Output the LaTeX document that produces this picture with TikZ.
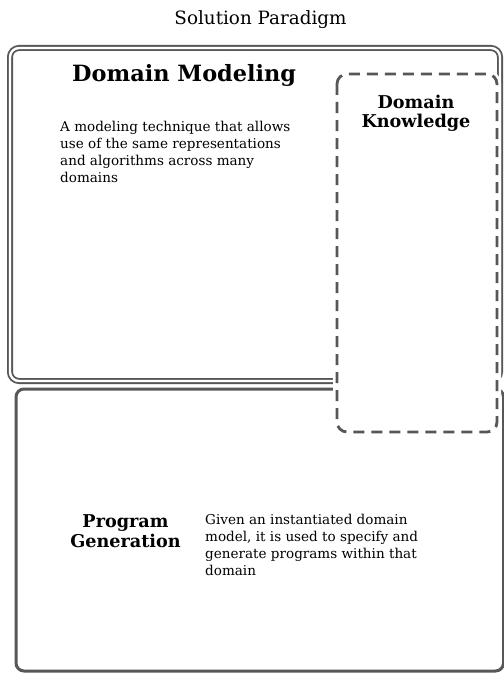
\documentclass[tikz,border=0pt]{standalone}
\usepackage{fontspec}
\setmainfont{DejaVu Serif}
\definecolor{edge}{gray}{0.34}
\begin{document}
\begin{tikzpicture}[x=1bp,y=-1bp,
  dmframe/.style={draw=edge, double=white, line width=1.8bp, double distance=2.4bp, rounded corners=9bp},
  pgframe/.style={draw=edge, line width=3bp, rounded corners=8bp},
  dkframe/.style={draw=edge, line width=2.8bp, dash pattern=on 11bp off 7bp, rounded corners=10bp,
     preaction={draw=white, line width=8bp, fill=white}},
  heading/.style={font=\fontsize{17.7}{20}\selectfont\bfseries, inner sep=0pt, align=center},
  body/.style={font=\fontsize{13.6}{16.8}\selectfont, inner sep=0pt, align=left}
]
\useasboundingbox[fill=white] (0,0) rectangle (504,674);
% title
\node[inner sep=0pt, anchor=base, font=\fontsize{18.4}{22}\selectfont] (title) at (260.5,25) {Solution Paradigm};
% frames
\draw[dmframe] (10,48) rectangle (500,381);
\draw[pgframe] (16,389) rectangle (503.5,671);
\draw[dkframe] (337,74) rectangle (497,432);
% domain modeling
\node[anchor=base west, inner sep=0pt, font=\fontsize{22.5}{26}\selectfont\bfseries] (dm) at (72,82) {Domain Modeling};
\node[body, anchor=base west] (dmtext) at (60,182) {A modeling technique that allows\\use of the same representations\\and algorithms across many\\domains};
% domain knowledge
\node[heading, anchor=base] (dk) at (416,128) {Domain\\Knowledge};
% program generation
\node[heading, anchor=base] (pg) at (125.5,547) {Program\\Generation};
\node[body, anchor=base west] (pgtext) at (205,575) {Given an instantiated domain\\model, it is used to specify and\\generate programs within that\\domain};
\end{tikzpicture}
\end{document}
